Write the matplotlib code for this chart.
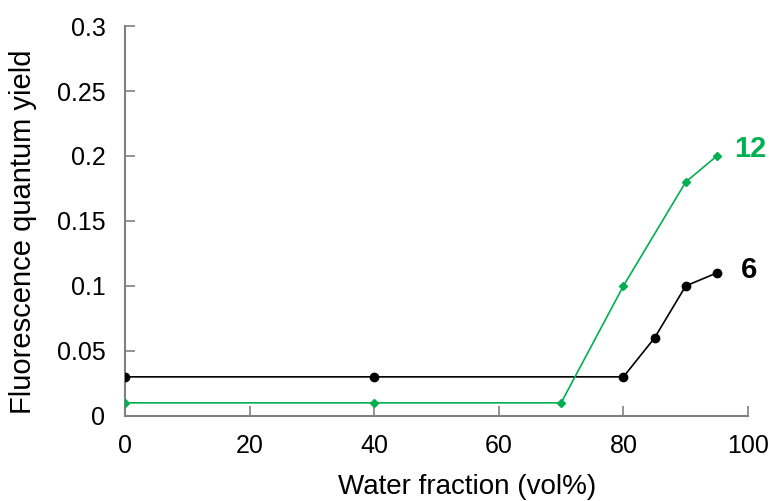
import matplotlib.pyplot as plt

plt.rcParams['font.family'] = ['Liberation Sans', 'DejaVu Sans']

# water fraction (vol%) and quantum yield for each compound
water_6 = [0, 40, 80, 85, 90, 95]
yield_6 = [0.03, 0.03, 0.03, 0.06, 0.10, 0.11]
water_12 = [0, 40, 70, 80, 90, 95]
yield_12 = [0.01, 0.01, 0.01, 0.10, 0.18, 0.20]

x_ticks = [0, 20, 40, 60, 80, 100]
y_ticks = [0, 0.05, 0.1, 0.15, 0.2, 0.25, 0.3]
y_tick_labels = ['0', '0.05', '0.1', '0.15', '0.2', '0.25', '0.3']

green = '#00B050'
gray = '#808080'

fig = plt.figure(figsize=(7.76, 5.01), dpi=100)
ax = fig.add_axes([0.161, 0.170, 0.803, 0.778])

ax.plot(water_6, yield_6, color='black', lw=1.2, marker='o', ms=6, zorder=3)
ax.plot(water_12, yield_12, color=green, lw=1.2, marker='D', ms=4, zorder=3)

ax.text(97.7, yield_12[-1] + 0.005, '12', color=green, fontsize=21,
        fontweight='bold', va='center', ha='left', clip_on=False)
ax.text(98.8, yield_6[-1] + 0.002, '6', color='black', fontsize=21,
        fontweight='bold', va='center', ha='left', clip_on=False)

ax.set_xlim(0, 100)
ax.set_ylim(0, 0.3)
ax.set_xticks(x_ticks)
ax.set_yticks(y_ticks)
ax.set_yticklabels(y_tick_labels)

for side in ['top', 'right']:
    ax.spines[side].set_visible(False)
for side in ['left', 'bottom']:
    ax.spines[side].set_color(gray)
    ax.spines[side].set_linewidth(1.5)

ax.tick_params(direction='in', length=7, width=1.2, color=gray,
               labelsize=18)
ax.tick_params(axis='x', pad=13)
ax.tick_params(axis='y', pad=14)

ax.set_xlabel('Water fraction (vol%)', fontsize=20, va='center')
ax.set_ylabel('Fluorescence quantum yield', fontsize=21,
              va='center', ha='center')
ax.xaxis.set_label_coords(0.549, -0.182)
ax.yaxis.set_label_coords(-0.163, 0.472)

fig.savefig('out.png', dpi=100)
